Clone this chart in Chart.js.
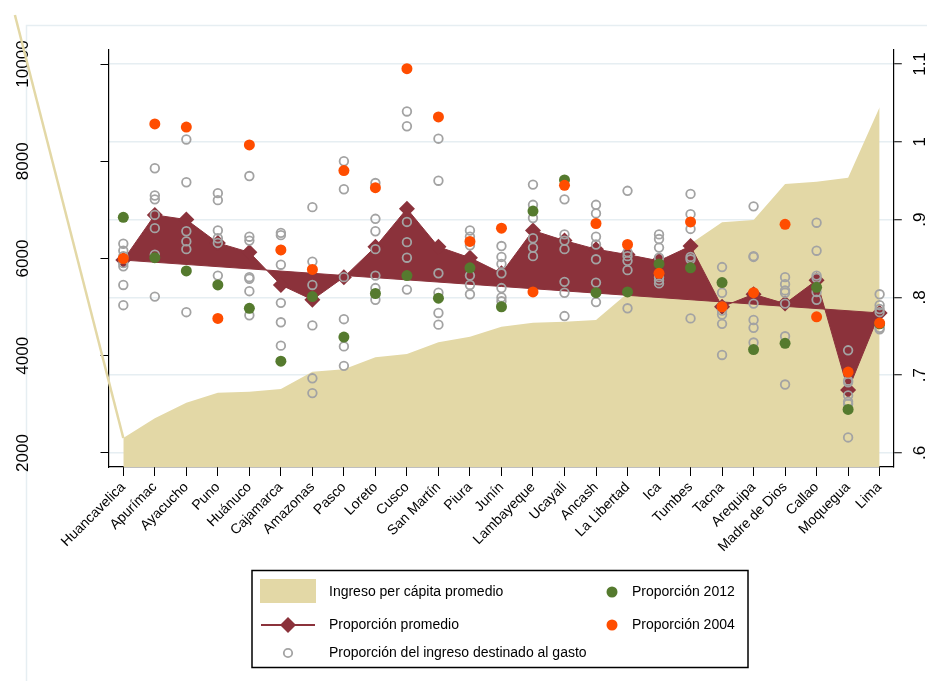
<!DOCTYPE html>
<html lang="es">
<head>
<meta charset="utf-8">
<title>Ingreso per cápita y proporción del gasto por región</title>
<script src="https://cdn.jsdelivr.net/npm/chart.js@4.4.1/dist/chart.umd.min.js"></script>
<style>
  html, body { margin: 0; padding: 0; background: #fff; }
  #wrap { width: 927px; height: 681px; }
</style>
</head>
<body>
<div id="wrap"><canvas id="chart" width="927" height="681"></canvas></div>
<script>
// Regions, ordered by average income per capita
const regions = ["Huancavelica", "Apurímac", "Ayacucho", "Puno", "Huánuco", "Cajamarca", "Amazonas",
  "Pasco", "Loreto", "Cusco", "San Martín", "Piura", "Junín", "Lambayeque", "Ucayali", "Ancash",
  "La Libertad", "Ica", "Tumbes", "Tacna", "Arequipa", "Madre de Dios", "Callao", "Moquegua", "Lima"];

const incomeAvg = [2309, 2713, 3035, 3241, 3261, 3316, 3673, 3722, 3968, 4036, 4277, 4393, 4598,
  4680, 4701, 4736, 5285, 5820, 6305, 6745, 6793, 7533, 7581, 7663, 9111];

// Stray edge of the income area, running off the top-left of the plot
const incomeLead = { x: -3.44, y: 11008 };

const shareAvg = [0.848, 0.906, 0.900, 0.870, 0.858, 0.816, 0.797, 0.826, 0.865, 0.914, 0.865, 0.851,
  0.831, 0.886, 0.873, 0.862, 0.855, 0.847, 0.866, 0.788, 0.804, 0.792, 0.822, 0.681, 0.780];

// Fitted line of the average share, at the first and the last region
const shareTrend = [0.848, 0.780];

const share2012 = [0.903, 0.851, 0.834, 0.816, 0.786, 0.718, 0.801, 0.749, 0.805, 0.828, 0.799, 0.838,
  0.788, 0.911, 0.951, 0.806, 0.807, 0.843, 0.838, 0.819, 0.733, 0.741, 0.813, 0.656, 0.766];

const share2004 = [0.850, 1.023, 1.019, 0.773, 0.996, 0.861, 0.836, 0.963, 0.941, 1.094, 1.032, 0.872,
  0.889, 0.807, 0.944, 0.895, 0.868, 0.831, 0.897, 0.788, 0.806, 0.894, 0.775, 0.704, 0.767];

// Remaining years, one list per region
const shareOther = [
  [0.869, 0.860, 0.853, 0.844, 0.840, 0.816, 0.790],
  [0.966, 0.931, 0.926, 0.906, 0.889, 0.855, 0.801],
  [1.003, 0.948, 0.885, 0.872, 0.862, 0.781],
  [0.934, 0.925, 0.886, 0.876, 0.870, 0.828],
  [0.956, 0.878, 0.873, 0.826, 0.824, 0.808, 0.777],
  [0.883, 0.880, 0.861, 0.842, 0.793, 0.768, 0.738],
  [0.916, 0.846, 0.816, 0.764, 0.696, 0.677],
  [0.975, 0.939, 0.826, 0.772, 0.737, 0.712],
  [0.947, 0.901, 0.885, 0.862, 0.828, 0.812, 0.797],
  [1.039, 1.020, 0.897, 0.871, 0.851, 0.810],
  [1.004, 0.950, 0.831, 0.806, 0.780, 0.765],
  [0.886, 0.878, 0.867, 0.828, 0.816, 0.804],
  [0.866, 0.852, 0.843, 0.831, 0.812, 0.800, 0.795],
  [0.945, 0.919, 0.902, 0.876, 0.864, 0.853],
  [0.926, 0.881, 0.873, 0.862, 0.820, 0.806, 0.776],
  [0.919, 0.908, 0.878, 0.868, 0.849, 0.819, 0.794],
  [0.937, 0.858, 0.853, 0.847, 0.835, 0.786],
  [0.881, 0.875, 0.864, 0.851, 0.826, 0.822, 0.818],
  [0.933, 0.907, 0.888, 0.852, 0.849, 0.773],
  [0.839, 0.806, 0.788, 0.783, 0.778, 0.766, 0.726],
  [0.917, 0.853, 0.852, 0.792, 0.771, 0.761, 0.742],
  [0.826, 0.817, 0.809, 0.806, 0.792, 0.750, 0.688],
  [0.896, 0.860, 0.828, 0.825, 0.807, 0.797],
  [0.732, 0.693, 0.691, 0.674, 0.666, 0.663, 0.620],
  [0.804, 0.790, 0.785, 0.781, 0.761, 0.759],
];

const incomeTicks = [2000, 4000, 6000, 8000, 10000];
const shareTicks = [0.6, 0.7, 0.8, 0.9, 1.0, 1.1];
const shareTickLabels = [".6", ".7", ".8", ".9", "1", "1.1"];

const TAN = "#e3d8a6";
const WINE = "#8b323b";
const GREEN = "#557a2e";
const ORANGE = "#ff4d00";
const GREY = "#a3a3a3";
const GRID = "#e6eef2";
const FONT = '"Liberation Sans", Arial, Helvetica, sans-serif';

const toPoints = (vals) => vals.map((y, x) => ({ x, y }));
const otherPoints = shareOther.flatMap((vals, x) => vals.map((y) => ({ x, y })));

// Light outer frame, top and left
const outerFrame = {
  id: "outerFrame",
  beforeDraw(chart) {
    const ctx = chart.ctx;
    ctx.save();
    ctx.strokeStyle = GRID;
    ctx.lineWidth = 1.5;
    ctx.beginPath();
    ctx.moveTo(26.5, 681);
    ctx.lineTo(26.5, 25.5);
    ctx.lineTo(927, 25.5);
    ctx.stroke();
    ctx.restore();
  },
};

// Vertical tick labels on both y axes
const axisLabels = {
  id: "axisLabels",
  beforeDatasetsDraw(chart) {
    const ctx = chart.ctx;
    const draw = (text, x, y) => {
      ctx.save();
      ctx.translate(x, y);
      ctx.rotate(-Math.PI / 2);
      ctx.fillText(text, 0, 0);
      ctx.restore();
    };

    ctx.save();
    ctx.fillStyle = "#000";
    ctx.font = `17px ${FONT}`;
    ctx.textAlign = "center";
    ctx.textBaseline = "alphabetic";

    incomeTicks.forEach((v) => draw(String(v), 28, chart.scales.yInc.getPixelForValue(v)));
    shareTicks.forEach((v, i) => draw(shareTickLabels[i], 925, chart.scales.yShare.getPixelForValue(v)));
    ctx.restore();
  },
};

// Boxed legend under the plot, two columns
const boxLegend = {
  id: "boxLegend",
  afterDraw(chart) {
    const ctx = chart.ctx;
    const sets = chart.data.datasets;

    const dot = (x, y, r, fill, stroke) => {
      ctx.beginPath();
      ctx.arc(x, y, r, 0, Math.PI * 2);
      if (fill) { ctx.fillStyle = fill; ctx.fill(); }
      if (stroke) { ctx.strokeStyle = stroke; ctx.lineWidth = 1.8; ctx.stroke(); }
    };

    ctx.save();
    ctx.strokeStyle = "#000";
    ctx.lineWidth = 1.5;
    ctx.strokeRect(252, 570.5, 496, 97);

    ctx.fillStyle = TAN;
    ctx.fillRect(260, 579, 56, 24);

    ctx.strokeStyle = WINE;
    ctx.lineWidth = 2;
    ctx.beginPath();
    ctx.moveTo(261, 625);
    ctx.lineTo(315, 625);
    ctx.stroke();
    ctx.fillStyle = WINE;
    ctx.beginPath();
    ctx.moveTo(280, 625);
    ctx.lineTo(288, 617);
    ctx.lineTo(296, 625);
    ctx.lineTo(288, 633);
    ctx.closePath();
    ctx.fill();

    dot(288, 653, 4.2, null, GREY);
    dot(612, 592, 5.5, GREEN);
    dot(612, 625, 5.5, ORANGE);

    ctx.fillStyle = "#000";
    ctx.font = `14px ${FONT}`;
    ctx.textAlign = "left";
    ctx.textBaseline = "middle";
    ctx.fillText(sets[1].label, 329, 592);
    ctx.fillText(sets[3].label, 329, 625);
    ctx.fillText(sets[4].label, 329, 653);
    ctx.fillText(sets[5].label, 632, 592);
    ctx.fillText(sets[6].label, 632, 625);
    ctx.restore();
  },
};

new Chart(document.getElementById("chart"), {
  type: "line",
  data: {
    datasets: [
      {
        label: "lead",
        data: [incomeLead, { x: 0, y: incomeAvg[0] }],
        yAxisID: "yInc",
        borderColor: TAN,
        borderWidth: 2.5,
        pointRadius: 0,
        clip: false,
        order: 7,
      },
      {
        label: "Ingreso per cápita promedio",
        data: toPoints(incomeAvg),
        yAxisID: "yInc",
        borderColor: TAN,
        borderWidth: 0,
        backgroundColor: TAN,
        fill: "start",
        pointRadius: 0,
        order: 6,
      },
      {
        label: "trend",
        data: [{ x: 0, y: shareTrend[0] }, { x: regions.length - 1, y: shareTrend[1] }],
        yAxisID: "yShare",
        borderColor: WINE,
        borderWidth: 1,
        pointRadius: 0,
        order: 5,
      },
      {
        label: "Proporción promedio",
        data: toPoints(shareAvg),
        yAxisID: "yShare",
        borderColor: WINE,
        borderWidth: 1,
        fill: { target: 2, above: WINE, below: WINE },
        pointStyle: "rectRot",
        pointRadius: 8,
        pointBackgroundColor: WINE,
        pointBorderWidth: 0,
        order: 4,
      },
      {
        label: "Proporción del ingreso destinado al gasto",
        data: otherPoints,
        yAxisID: "yShare",
        showLine: false,
        pointRadius: 4.3,
        pointBorderWidth: 1.8,
        pointBorderColor: GREY,
        pointBackgroundColor: "rgba(0,0,0,0)",
        order: 3,
      },
      {
        label: "Proporción 2012",
        data: toPoints(share2012),
        yAxisID: "yShare",
        showLine: false,
        pointRadius: 5.5,
        pointBorderWidth: 0,
        pointBackgroundColor: GREEN,
        order: 2,
      },
      {
        label: "Proporción 2004",
        data: toPoints(share2004),
        yAxisID: "yShare",
        showLine: false,
        pointRadius: 5.5,
        pointBorderWidth: 0,
        pointBackgroundColor: ORANGE,
        order: 1,
      },
    ],
  },
  options: {
    responsive: false,
    animation: false,
    layout: { padding: { top: 50, left: 0, right: 0, bottom: 0 } },
    elements: { line: { tension: 0 } },
    plugins: {
      legend: { display: false },
      tooltip: { enabled: false },
    },
    scales: {
      x: {
        type: "linear",
        min: -0.47,
        max: 24.45,
        afterBuildTicks: (s) => { s.ticks = regions.map((_, i) => ({ value: i })); },
        afterFit: (s) => { s.height = 214; },
        grid: { drawOnChartArea: false, drawTicks: true, tickLength: 9, tickColor: "#000", tickWidth: 1 },
        border: { color: "#000", width: 1.2 },
        ticks: {
          autoSkip: false,
          minRotation: 45,
          maxRotation: 45,
          padding: 3,
          color: "#000",
          font: { family: FONT, size: 14 },
          callback: (v) => regions[v],
        },
      },
      yInc: {
        position: "left",
        min: 1712,
        max: 10288,
        afterBuildTicks: (s) => { s.ticks = incomeTicks.map((value) => ({ value })); },
        afterFit: (s) => { s.width = 108.5; },
        grid: { drawOnChartArea: false, tickLength: 8, tickColor: "#000" },
        border: { color: "#000", width: 1.2 },
        ticks: { display: false },
      },
      yShare: {
        position: "right",
        min: 0.58201,
        max: 1.11799,
        afterBuildTicks: (s) => { s.ticks = shareTicks.map((value) => ({ value })); },
        afterFit: (s) => { s.width = 33.2; },
        grid: { color: GRID, lineWidth: 1.5, tickLength: 8, tickColor: "#000", tickWidth: 1 },
        border: { color: "#000", width: 1.2 },
        ticks: { display: false },
      },
    },
  },
  plugins: [outerFrame, axisLabels, boxLegend],
});
</script>
</body>
</html>
